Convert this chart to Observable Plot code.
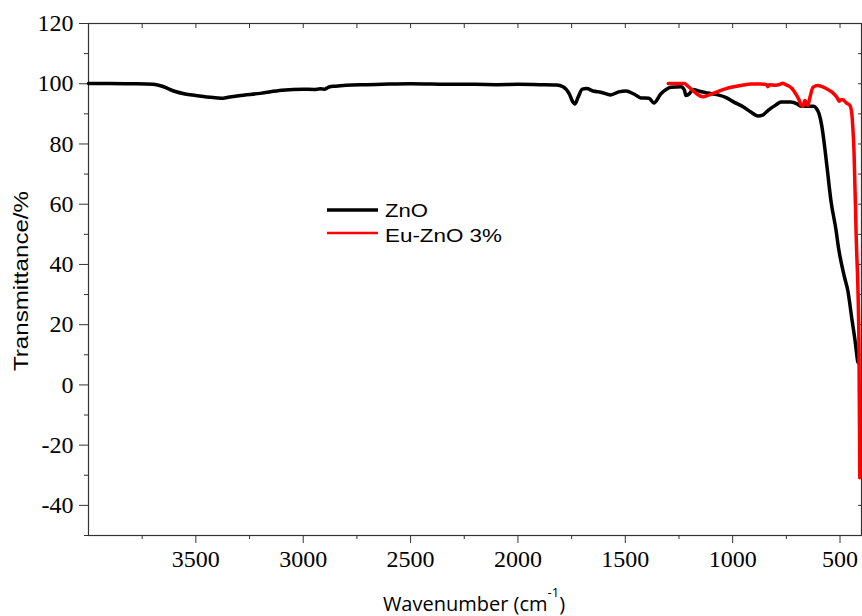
<!DOCTYPE html>
<html>
<head>
<meta charset="utf-8">
<script src="https://cdn.jsdelivr.net/npm/d3@7"></script>
<script src="https://cdn.jsdelivr.net/npm/@observablehq/plot@0.6"></script>
<style>
  html, body { margin: 0; padding: 0; background: #fff; }
  #chart { width: 862px; height: 616px; }
  #chart svg { color: #000; background: #fff; overflow: visible; }
</style>
</head>
<body>
<div id="chart"></div>
<script>
// ZnO spectrum: wavenumber (cm-1) and transmittance (%)
const znoWn = [4000,3900,3800,3700,3650,3600,3550,3500,3450,3400,3380,3350,3300,3200,3100,3000,2950,2920,2900,2880,2850,2800,2700,2600,2500,2400,2300,2200,2100,2000,1900,1820,1790,1760,1745,1735,1720,1700,1680,1650,1614,1568,1530,1498,1460,1428,1390,1367,1335,1310,1288,1241,1225,1218,1200,1186,1150,1116,1069,1030,994,950,915,883,860,836,800,775,729,700,682,622,610,598,585,575,560,542,520,505,480,463,445,430,422,417,414];
const znoT  = [100.1,100.1,100.0,99.8,99.0,97.5,96.6,96.1,95.6,95.3,95.2,95.5,96.0,96.8,97.8,98.2,98.1,98.3,98.2,98.9,99.2,99.5,99.7,99.9,100.0,99.9,99.8,99.8,99.7,99.8,99.7,99.6,99.0,96.5,94.0,93.3,95.5,98.2,98.4,97.6,97.2,96.3,97.3,97.6,96.6,95.3,95.2,93.6,96.6,98.1,98.8,99.0,97.9,96.1,96.8,98.1,97.4,96.9,96.3,95.4,93.9,92.3,90.6,89.3,89.6,91.1,92.9,93.9,93.9,93.3,92.5,92.5,91.8,90.1,86.0,81.0,72.0,61.0,52.0,44.6,36.0,31.0,22.0,14.7,10.0,7.4,8.5];

// Eu-ZnO 3% spectrum
const euWn = [1300,1260,1225,1210,1190,1170,1140,1110,1069,1030,994,950,915,869,840,836,830,800,780,766,755,743,725,706,690,682,673,664,650,640,626,603,590,575,550,528,512,505,495,487,470,463,454,445,440,435,425,412,408];
const euT  = [100.1,100.1,100.1,99.3,98.0,96.8,95.7,96.3,97.4,98.4,99.0,99.6,99.9,99.9,99.6,99.0,99.7,99.5,99.8,100.2,99.8,99.4,98.5,96.6,94.5,93.0,92.5,94.4,92.8,95.5,98.8,99.4,99.2,98.8,97.8,96.6,95.2,94.2,94.7,94.7,93.6,93.3,92.8,90.0,85.0,77.8,50.0,14.7,-30.8];

const seriesNames = ["ZnO", "Eu-ZnO 3%"];
const seriesColors = ["#000000", "#ff0000"];

const xMajor = [3500,3000,2500,2000,1500,1000,500];
const xMinor = [3750,3250,2750,2250,1750,1250,750];
const yMajor = [-40,-20,0,20,40,60,80,100,120];
const yMinor = [-50,-30,-10,10,30,50,70,90,110];

const xLabel = "Wavenumber (cm";
const xLabelSup = "-1";
const yLabel = "Transmittance/%";

const rows = [];
znoWn.forEach((w, i) => rows.push({wn: w, t: znoT[i], s: seriesNames[0]}));
euWn.forEach((w, i) => rows.push({wn: w, t: euT[i], s: seriesNames[1]}));

const tickFont = "Liberation Serif";
const W = 862, H = 616;
const svg = Plot.plot({
  width: W,
  height: H,
  marginLeft: 88,
  marginRight: 1,
  marginTop: 23,
  marginBottom: 81,
  x: {domain: [4000, 400]},
  y: {domain: [-50, 120]},
  color: {domain: seriesNames, range: seriesColors},
  marks: [
    Plot.axisX(xMinor, {tickSize: 4, tickFormat: () => "", label: null, stroke: "#333"}),
    Plot.axisX(xMajor, {tickSize: 8, tickPadding: 6, label: null, stroke: "#333", tickFormat: d => String(d), fontFamily: tickFont, fontSize: 24, fill: "#000"}),
    Plot.axisY(yMinor, {tickSize: 4, tickFormat: () => "", label: null, stroke: "#333"}),
    Plot.axisY(yMajor, {tickSize: 9, tickPadding: 6, label: null, stroke: "#333", tickFormat: d => String(d), fontFamily: tickFont, fontSize: 24, fill: "#000"}),
    Plot.axisX([...xMajor, ...xMinor], {anchor: "top", tickSize: -4, tickFormat: () => "", label: null, stroke: "#333"}),
    Plot.axisY([...yMajor, ...yMinor], {anchor: "right", tickSize: -4, tickFormat: () => "", label: null, stroke: "#333"}),
    Plot.frame({stroke: "#333", strokeWidth: 1.2}),
    Plot.line(rows, {x: "wn", y: "t", z: "s", stroke: "s", strokeWidth: 3.5, curve: "monotone-x"})
  ]
});
document.getElementById("chart").appendChild(svg);

const s = d3.select(svg);

// Y axis title
s.append("text")
  .attr("transform", "translate(28,281) rotate(-90)")
  .attr("text-anchor", "middle")
  .attr("font-family", "'Liberation Sans', Arial, sans-serif")
  .attr("font-size", 21)
  .attr("textLength", 180)
  .attr("lengthAdjust", "spacingAndGlyphs")
  .attr("fill", "#000")
  .text(yLabel);

// X axis title with superscript
const xt = s.append("text")
  .attr("x", 474)
  .attr("y", 611)
  .attr("text-anchor", "middle")
  .attr("font-family", "'Open Sans', 'Noto Sans', sans-serif")
  .attr("font-size", 20)
  .attr("fill", "#000");
xt.append("tspan").text(xLabel);
xt.append("tspan").attr("dy", -14).attr("font-size", 13).text(xLabelSup);
xt.append("tspan").attr("dy", 14).text(")");

// Legend
const leg = s.append("g")
  .attr("font-family", "'Liberation Sans', Arial, sans-serif")
  .attr("font-size", 18)
  .attr("text-anchor", "start")
  .attr("fill", "#000");
const legY = [210, 233];
const legTextY = [217, 242];
const legLen = [43, 117];
seriesNames.forEach((name, i) => {
  leg.append("line").attr("x1", 327).attr("x2", 378).attr("y1", legY[i]).attr("y2", legY[i])
    .attr("stroke", seriesColors[i]).attr("stroke-width", i === 0 ? 3.5 : 2.5);
  leg.append("text").attr("x", 385).attr("y", legTextY[i])
    .attr("textLength", legLen[i]).attr("lengthAdjust", "spacingAndGlyphs")
    .text(name);
});
</script>
</body>
</html>
